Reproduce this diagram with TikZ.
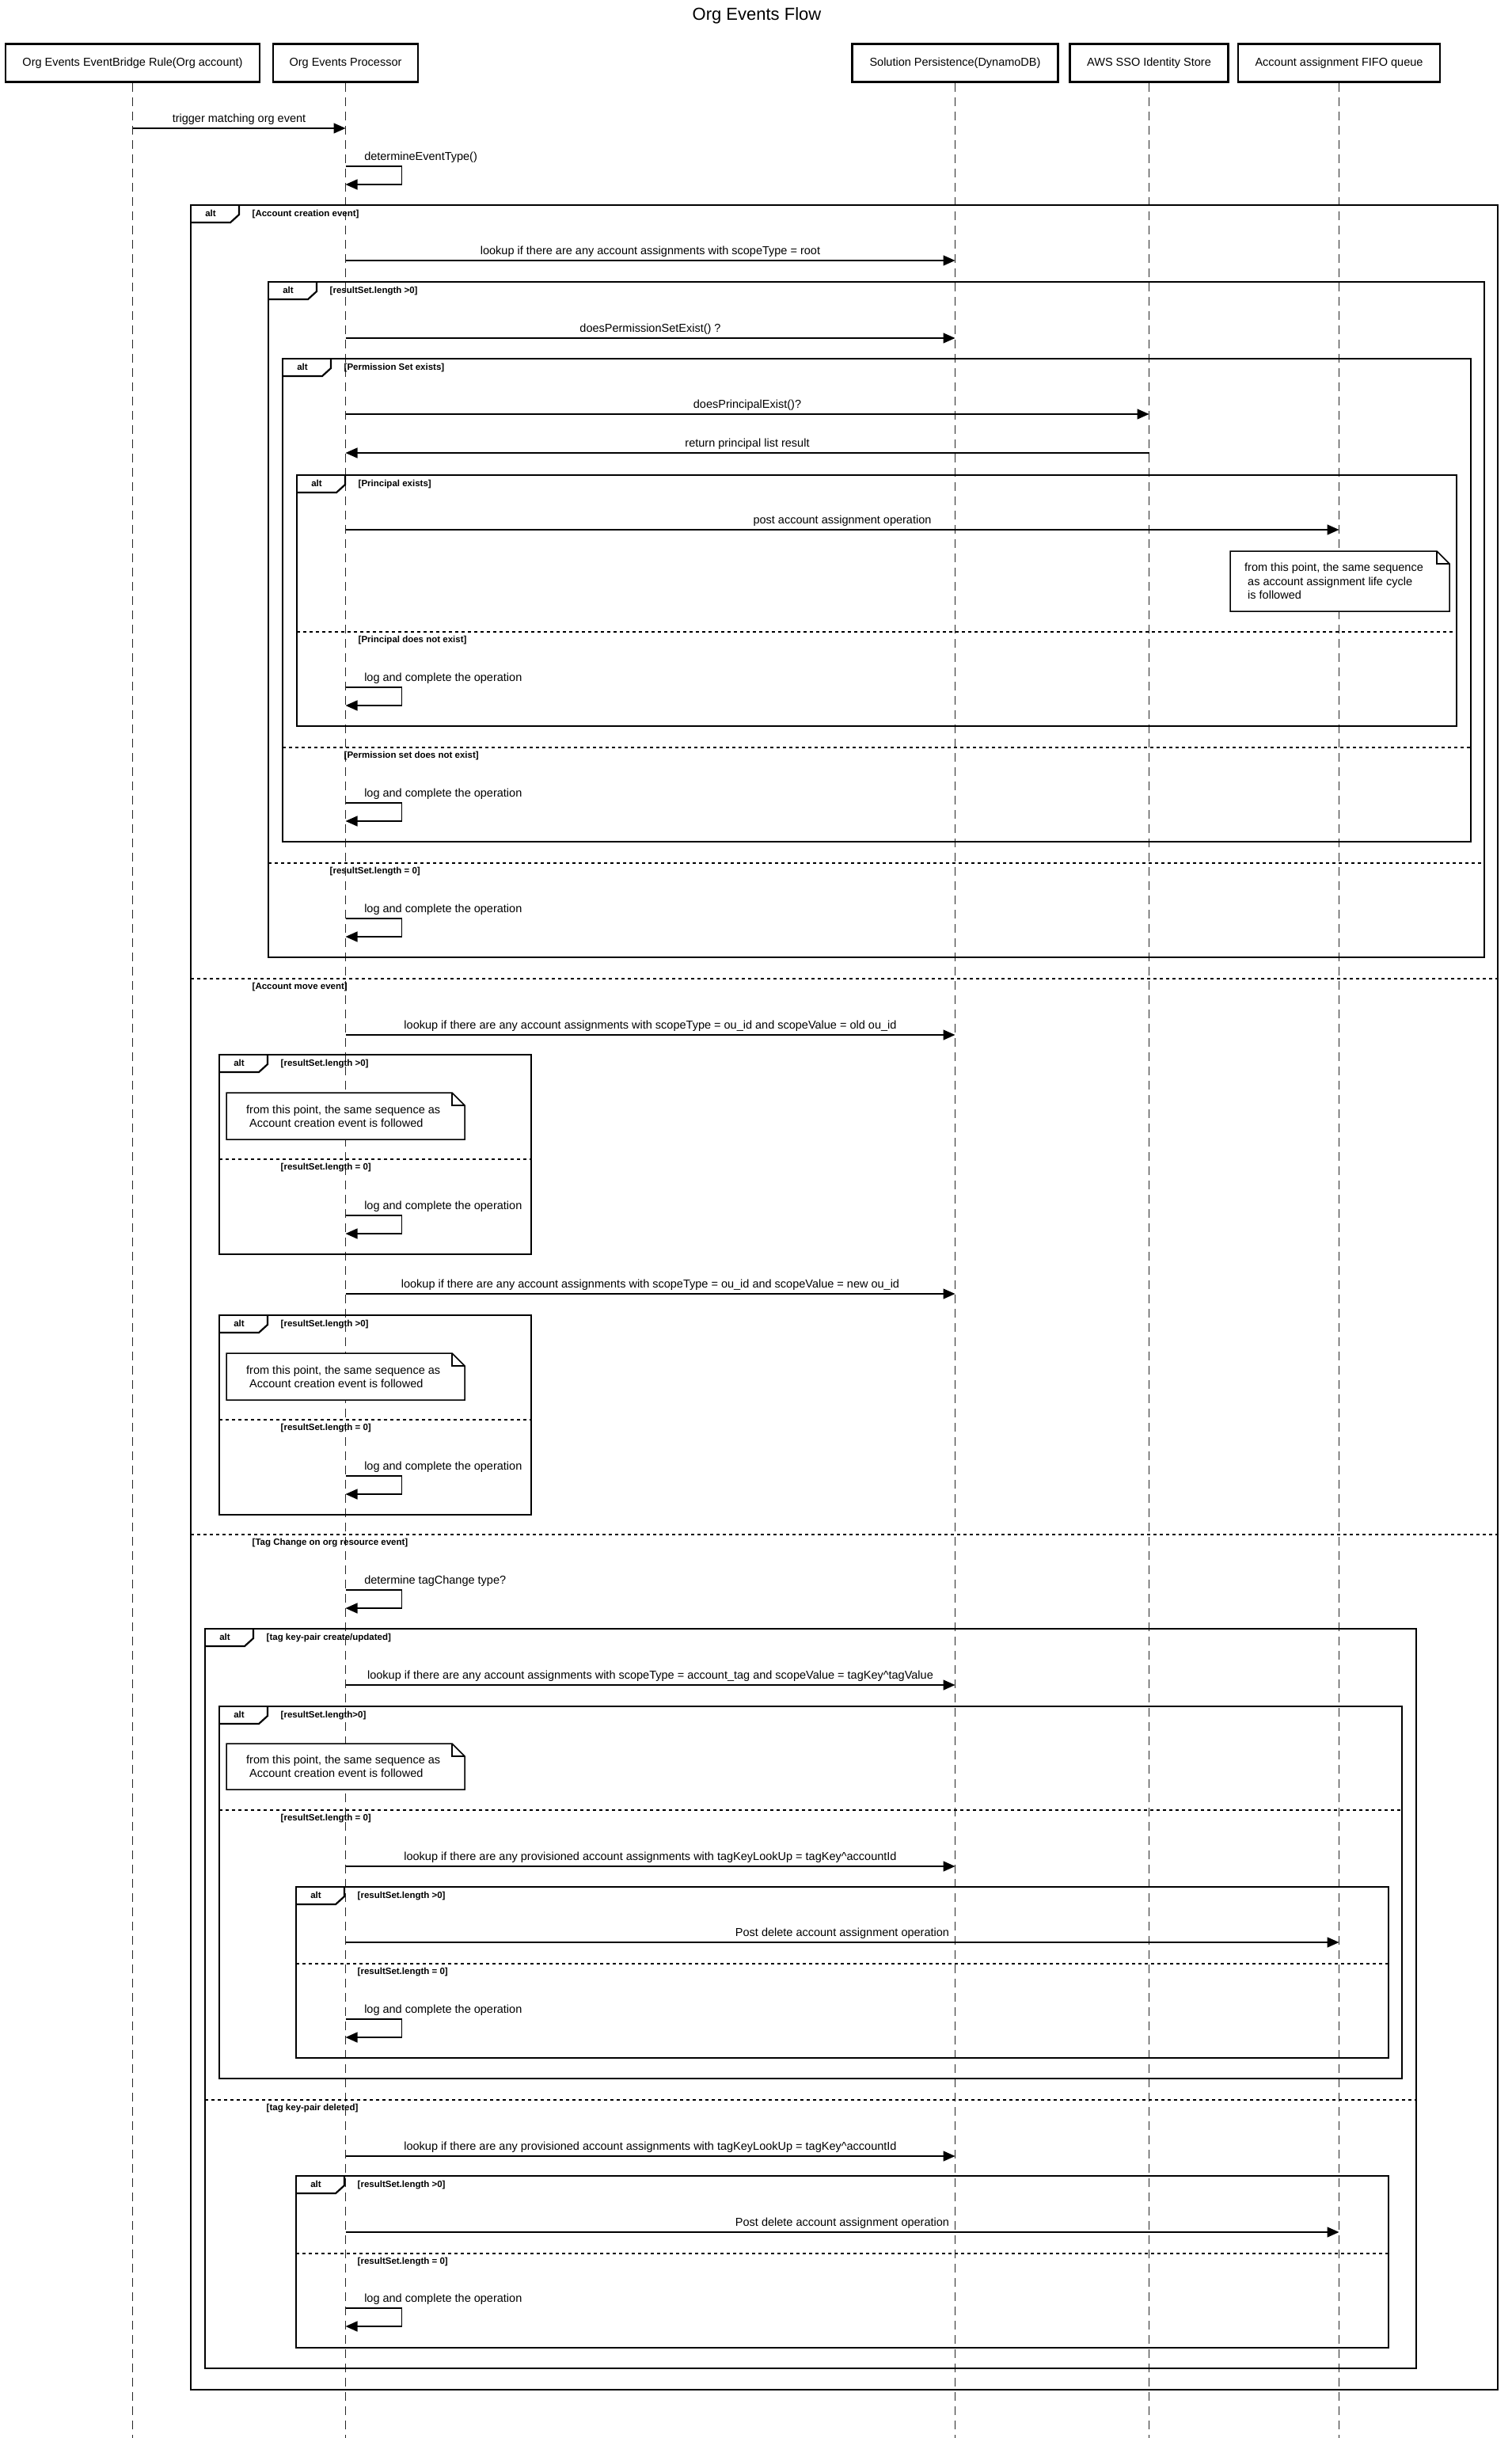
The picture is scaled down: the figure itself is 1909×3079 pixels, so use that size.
\documentclass[tikz,border=0pt]{standalone}
\usepackage{fontspec}
\setmainfont{Liberation Sans}
\usetikzlibrary{arrows.meta}
\newcounter{lblc}
\tikzset{
  participant/.style={draw, line width=2.5pt, minimum height=48pt, inner sep=0pt, font=\fontsize{14.5}{17}\selectfont},
  lifeline/.style={line width=1.2pt, draw=black!85, dash pattern=on 11pt off 7pt},
  msgline/.style={line width=1.5pt, -{Triangle[length=15pt,width=13pt]}},
  msglabel/.style={font=\fontsize{14.5}{17}\selectfont, inner sep=0pt, text height=10.5pt, text depth=3pt},
  framebox/.style={line width=2.4pt},
  tabline/.style={line width=2.2pt},
  sepline/.style={line width=2pt, dash pattern=on 4pt off 4pt},
  guard/.style={font=\bfseries\fontsize{11.5}{13}\selectfont, inner sep=0pt, anchor=west, text height=8.5pt, text depth=2.5pt},
  notebox/.style={line width=1.5pt, fill=white},
  notetext/.style={font=\fontsize{14.5}{17}\selectfont, inner sep=0pt, anchor=base west},
}
\newcommand{\seqmsg}[4]{\stepcounter{lblc}%
  \draw[msgline] (#1 |- 0,#3) -- node[msglabel, midway, yshift=11pt, name=msg\thelblc] {#4} (#2 |- 0,#3);}
\newcommand{\selfmsg}[2]{\stepcounter{lblc}%
  \draw[msgline] (p2 |- 0,#1) node[msglabel, anchor=west, xshift=23pt, yshift=11pt, name=self\thelblc] {#2} -- ++(71,0) -- ++(0,23) -- ++(-71,0);}
\newcommand{\altframe}[6]{%
  \draw[framebox] (#2,#3) rectangle (#4,#5);
  \draw[tabline] (#2,{#3+22}) -- ({#2+50},{#3+22}) -- ({#2+61},{#3+12}) -- ({#2+61},#3);
  \node[guard, anchor=center] (#1-alt) at ({#2+25},{#3+11}) {alt};
  \node[guard] (#1-guard) at ({#2+77.5},{#3+11}) {#6};
}
\newcommand{\altsep}[5]{%
  \draw[sepline] (#2,#4) -- (#3,#4);
  \node[guard] (#1) at ({#2+77.5},{#4+10}) {#5};
}
\newcommand{\seqnote}[4]{%
  \draw[notebox] (#1,#2) -- ({#3-16},#2) -- (#3,{#2+16}) -- (#3,#4) -- (#1,#4) -- cycle;
  \draw[line width=1.5pt] ({#3-16},#2) -- ({#3-16},{#2+16}) -- (#3,{#2+16});
}
\begin{document}
\begin{tikzpicture}[x=1pt,y=-1pt]
\useasboundingbox (0,0) rectangle (1909,3079);
\node[font=\fontsize{22}{26}\selectfont] (title) at (956,20) {Org Events Flow};
% participants
\node[participant, minimum width=321pt] (p1) at (167.5,79.5) {Org Events EventBridge Rule(Org account)};
\node[participant, minimum width=183pt] (p2) at (436.5,79.5) {Org Events Processor};
\node[participant, minimum width=260pt] (p3) at (1206.5,79.5) {Solution Persistence(DynamoDB)};
\node[participant, minimum width=200pt] (p4) at (1451.5,79.5) {AWS SSO Identity Store};
\node[participant, minimum width=255pt] (p5) at (1691.5,79.5) {Account assignment FIFO queue};
% lifelines
\foreach \i in {1,...,5}{
  \coordinate (b\i) at (p\i.south |- 0,3079);
  \draw[lifeline] (p\i.south) -- (b\i);
}
% frames
\altframe{fa}{241}{259}{1892}{3018}{[Account creation event]}
\altsep{fa-s1}{241}{1892}{1236}{[Account move event]}
\altsep{fa-s2}{241}{1892}{1938}{[Tag Change on org resource event]}
\altframe{fb}{339}{356}{1875}{1209}{[resultSet.length >0]}
\altsep{fb-s1}{339}{1875}{1090}{[resultSet.length = 0]}
\altframe{fc}{357}{453}{1858}{1063}{[Permission Set exists]}
\altsep{fc-s1}{357}{1858}{944}{[Permission set does not exist]}
\altframe{fd}{375}{600}{1840}{917}{[Principal exists]}
\altsep{fd-s1}{375}{1840}{798}{[Principal does not exist]}
\altframe{fe}{277}{1332}{671}{1584}{[resultSet.length >0]}
\altsep{fe-s1}{277}{671}{1464}{[resultSet.length = 0]}
\altframe{ff}{277}{1661}{671}{1913}{[resultSet.length >0]}
\altsep{ff-s1}{277}{671}{1793}{[resultSet.length = 0]}
\altframe{fg}{259}{2057}{1789}{2991}{[tag key-pair create/updated]}
\altsep{fg-s1}{259}{1789}{2652}{[tag key-pair deleted]}
\altframe{fh}{277}{2155}{1771}{2625}{[resultSet.length>0]}
\altsep{fh-s1}{277}{1771}{2286}{[resultSet.length = 0]}
\altframe{fi}{374}{2383}{1754}{2599}{[resultSet.length >0]}
\altsep{fi-s1}{374}{1754}{2480}{[resultSet.length = 0]}
\altframe{fj}{374}{2748}{1754}{2965}{[resultSet.length >0]}
\altsep{fj-s1}{374}{1754}{2846}{[resultSet.length = 0]}
% messages
\seqmsg{p1}{p2}{162}{trigger matching org event}
\selfmsg{210}{determineEventType()}
\seqmsg{p2}{p3}{329}{lookup if there are any account assignments with scopeType = root}
\seqmsg{p2}{p3}{427}{doesPermissionSetExist() ?}
\seqmsg{p2}{p4}{523}{doesPrincipalExist()?}
\seqmsg{p4}{p2}{572}{return principal list result}
\seqmsg{p2}{p5}{669}{post account assignment operation}
\selfmsg{868}{log and complete the operation}
\selfmsg{1014}{log and complete the operation}
\selfmsg{1160}{log and complete the operation}
\seqmsg{p2}{p3}{1307}{lookup if there are any account assignments with scopeType = ou\_id and scopeValue = old ou\_id}
\selfmsg{1535}{log and complete the operation}
\seqmsg{p2}{p3}{1634}{lookup if there are any account assignments with scopeType = ou\_id and scopeValue = new ou\_id}
\selfmsg{1864}{log and complete the operation}
\selfmsg{2008}{determine tagChange type?}
\seqmsg{p2}{p3}{2128}{lookup if there are any account assignments with scopeType = account\_tag and scopeValue = tagKey\textasciicircum{}tagValue}
\seqmsg{p2}{p3}{2357}{lookup if there are any provisioned account assignments with tagKeyLookUp = tagKey\textasciicircum{}accountId}
\seqmsg{p2}{p5}{2453}{Post delete account assignment operation}
\selfmsg{2550}{log and complete the operation}
\seqmsg{p2}{p3}{2723}{lookup if there are any provisioned account assignments with tagKeyLookUp = tagKey\textasciicircum{}accountId}
\seqmsg{p2}{p5}{2819}{Post delete account assignment operation}
\selfmsg{2915}{log and complete the operation}
% notes
\seqnote{1554}{696}{1831}{772}
\node[notetext] (n1a) at (1572,721.5) {from this point, the same sequence};
\node[notetext] (n1b) at (1576,739) {as account assignment life cycle};
\node[notetext] (n1c) at (1576,756.5) {is followed};
\seqnote{286}{1380}{587}{1439}
\node[notetext] (n2a) at (311,1406.5) {from this point, the same sequence as};
\node[notetext] (n2b) at (315,1423.5) {Account creation event is followed};
\seqnote{286}{1709}{587}{1768}
\node[notetext] (n3a) at (311,1735.5) {from this point, the same sequence as};
\node[notetext] (n3b) at (315,1752.5) {Account creation event is followed};
\seqnote{286}{2202}{587}{2260}
\node[notetext] (n4a) at (311,2227.5) {from this point, the same sequence as};
\node[notetext] (n4b) at (315,2244.5) {Account creation event is followed};
\end{tikzpicture}
\end{document}
